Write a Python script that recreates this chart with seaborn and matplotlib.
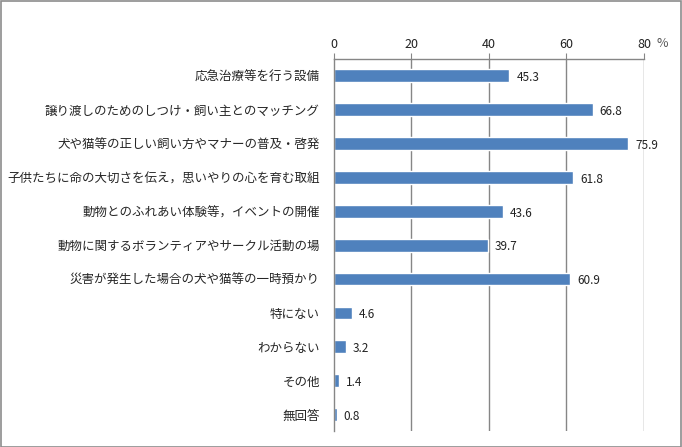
import matplotlib
matplotlib.use("Agg")
import matplotlib.pyplot as plt
import seaborn as sns
import pandas as pd

categories = [
    "応急治療等を行う設備",
    "譲り渡しのためのしつけ・飼い主とのマッチング",
    "犬や猫等の正しい飼い方やマナーの普及・啓発",
    "子供たちに命の大切さを伝え，思いやりの心を育む取組",
    "動物とのふれあい体験等，イベントの開催",
    "動物に関するボランティアやサークル活動の場",
    "災害が発生した場合の犬や猫等の一時預かり",
    "特にない",
    "わからない",
    "その他",
    "無回答",
]
values = [45.3, 66.8, 75.9, 61.8, 43.6, 39.7, 60.9, 4.6, 3.2, 1.4, 0.8]
x_ticks = [0, 20, 40, 60, 80]

sns.set_style("white")
plt.rcParams["font.family"] = ["Noto Sans CJK JP", "DejaVu Sans"]

df = pd.DataFrame({"item": categories, "pct": values})

fig = plt.figure(figsize=(6.82, 4.47), dpi=100)
ax = fig.add_axes([0.4893, 0.0347, 0.455, 0.8335])

sns.barplot(
    data=df,
    x="pct",
    y="item",
    color="#4F81BD",
    width=0.375,
    saturation=1,
    ax=ax
)

grid_c = "#868686"
ax.set_xlim(0, 80)
ax.set_ylim(len(categories) - 0.5, -0.5)
ax.set_xticks(x_ticks)
ax.xaxis.tick_top()
ax.tick_params(axis="x", length=4, color=grid_c, labelsize=9,
               labelcolor="#222222", pad=2, direction="out")
for x in x_ticks[1:]:
    ax.axvline(x, color=grid_c, lw=1, zorder=0)

# category labels without ticks, boundary ticks via minor locator
ax.set_yticks(range(len(categories)))
ax.set_yticklabels(categories, fontsize=9)
ax.tick_params(axis="y", which="major", length=0, pad=10)
ax.set_yticks([i - 0.5 for i in range(len(categories) + 1)], minor=True)
ax.tick_params(axis="y", which="minor", length=4, color=grid_c, direction="out")

ax.set_xlabel("")
ax.set_ylabel("")
for side in ["right", "bottom"]:
    ax.spines[side].set_visible(False)
for side in ["left", "top"]:
    ax.spines[side].set_color(grid_c)
    ax.spines[side].set_linewidth(1)

for i, v in enumerate(values):
    ax.text(v + 1.8, i + 0.05, f"{v}", va="center", ha="left",
            fontsize=8.5, color="#222222")

fig.text(0.971, 0.902, "%", fontsize=9, color="#555555", ha="center", va="center")

fig.patches.append(plt.Rectangle((0.001, 0.001), 0.998, 0.997, transform=fig.transFigure,
                                 fill=False, edgecolor="#8c8c8c", lw=1.2))

plt.savefig("out.png", dpi=100)
plt.close()
